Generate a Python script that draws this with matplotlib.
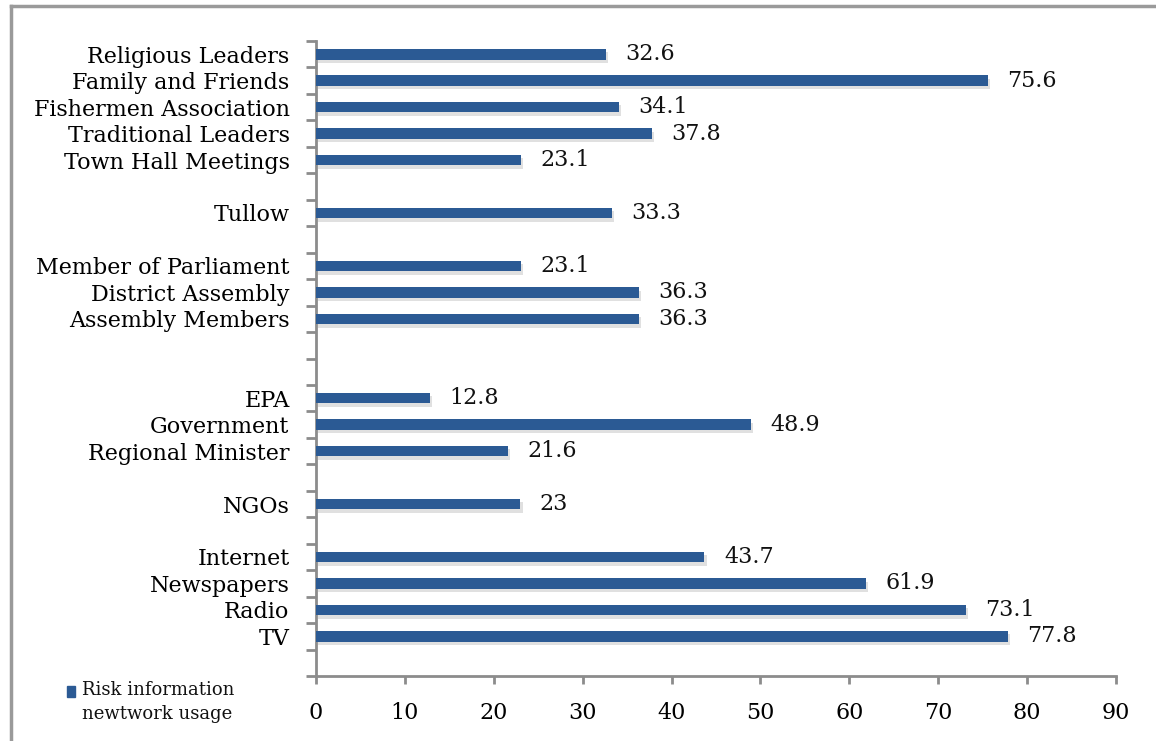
import matplotlib.pyplot as plt
import matplotlib.patheffects as pe
import numpy as np
from matplotlib.patches import Rectangle

# channels listed top to bottom, blank entries keep the group gaps
channels = ["Religious Leaders", "Family and Friends", "Fishermen Association",
            "Traditional Leaders", "Town Hall Meetings", "",
            "Tullow", "",
            "Member of Parliament", "District Assembly", "Assembly Members", "", "",
            "EPA", "Government", "Regional Minister", "",
            "NGOs", "",
            "Internet", "Newspapers", "Radio", "TV", ""]
usage = [32.6, 75.6, 34.1, 37.8, 23.1, None,
         33.3, None,
         23.1, 36.3, 36.3, None, None,
         12.8, 48.9, 21.6, None,
         23, None,
         43.7, 61.9, 73.1, 77.8, None]
x_ticks = [0, 10, 20, 30, 40, 50, 60, 70, 80, 90]

bar_color = "#2b5a94"
axis_color = "#8c8c8c"
font = "DejaVu Serif"
fs = 16
W, H = 1156, 741

fig = plt.figure(figsize=(W / 100, H / 100), dpi=100)
ax = fig.add_axes([316 / W, 1 - 676 / H, 800 / W, 635 / H])

pos = np.arange(len(channels))
for y, v in zip(pos, usage):
    if v is None:
        continue
    ax.barh(y, v, height=0.4, color=bar_color, zorder=3,
            path_effects=[pe.SimplePatchShadow(offset=(1.5, -2.5), shadow_rgbFace="#999999", alpha=0.3),
                          pe.Normal()])
    ax.annotate(f"{v:g}", (v, y), xytext=(14, 0), textcoords="offset points",
                va="center", ha="left", fontsize=fs, family=font, color="#111111")

ax.set_ylim(len(channels) - 0.5, -0.5)
ax.set_xlim(0, 90)
ax.set_xticks(x_ticks)
ax.set_xticklabels([str(t) for t in x_ticks], family=font, fontsize=fs)
ax.set_yticks(pos)
ax.set_yticklabels(channels, family=font, fontsize=fs)
ax.set_yticks(np.arange(len(channels) + 1) - 0.5, minor=True)
ax.tick_params(axis="y", which="major", length=0, pad=19)
ax.tick_params(axis="y", which="minor", length=7, width=2, color=axis_color)
ax.tick_params(axis="x", length=6, width=2, color=axis_color, pad=13)

for side in ["top", "right"]:
    ax.spines[side].set_visible(False)
for side in ["left", "bottom"]:
    ax.spines[side].set_color(axis_color)
    ax.spines[side].set_linewidth(2)

# legend key in the lower left corner
fig.add_artist(Rectangle((67 / W, 1 - 697 / H), 8 / W, 11 / H, color=bar_color,
                         transform=fig.transFigure))
fig.text(82 / W, 1 - 681 / H, "Risk information\nnewtwork usage", family=font, fontsize=13,
         va="top", ha="left", linespacing=1.4, color="#111111")

# outer frame of the chart area
fig.add_artist(plt.Line2D([11 / W, 11 / W], [0, 1 - 6 / H], color="#9a9a9a", lw=2.5,
                          transform=fig.transFigure))
fig.add_artist(plt.Line2D([11 / W, 1], [1 - 6 / H, 1 - 6 / H], color="#9a9a9a", lw=2.5,
                          transform=fig.transFigure))

fig.savefig("out.png", dpi=100)
